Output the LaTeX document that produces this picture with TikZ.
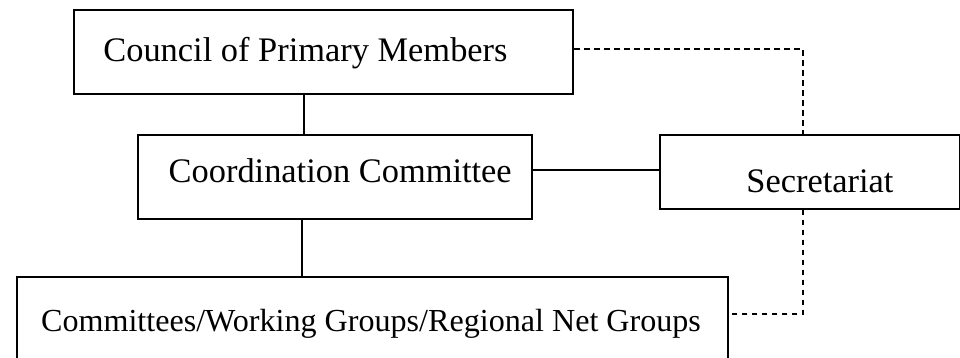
\documentclass[tikz,border=0pt]{standalone}
\usepackage{fontspec}
\setmainfont{Liberation Serif}
\begin{document}
\begin{tikzpicture}[x=0.5pt,y=-0.5pt,
  box/.style={draw=black, line width=1pt, rectangle, anchor=north west, inner sep=0pt, fill=white},
  lbl/.style={anchor=base west, inner sep=0pt, font=\fontsize{17.2}{20}\selectfont},
  conn/.style={draw=black, line width=1pt},
  dconn/.style={draw=black, line width=1pt, dash pattern=on 2.8pt off 2.2pt}]
\clip (0,0) rectangle (960,358);
\fill[white] (0,0) rectangle (960,358);
% boxes
\node[box, minimum width=249.65pt, minimum height=41.75pt] (council) at (72.7,9.5) {};
\node[box, minimum width=196.85pt, minimum height=42pt] (coord) at (137,134) {};
\node[box, minimum width=149.85pt, minimum height=36.85pt] (sec) at (659.3,134) {};
\node[box, minimum width=355.35pt, minimum height=55pt] (groups) at (16,275.7) {};
% labels
\node[lbl] (tcouncil) at (103,62) {Council of Primary Members};
\node[lbl] (tcoord) at (168.3,183) {Coordination Committee};
\node[lbl] (tsec) at (746,192) {Secretariat};
\node[lbl, font=\fontsize{16.05}{19}\selectfont] (tgroups) at (40.7,331) {Committees/Working Groups/Regional Net Groups};
% helper coordinates
\coordinate (xa) at (303.5,0);
\coordinate (xb) at (301.7,0);
\coordinate (ya) at (0,170);
\coordinate (xd) at (803,0);
\coordinate (yd1) at (0,49);
\coordinate (yd2) at (0,314);
% solid connectors
\draw[conn] (xa |- council.south) -- (xa |- coord.north);
\draw[conn] (xb |- coord.south) -- (xb |- groups.north);
\draw[conn] (coord.east |- ya) -- (sec.west |- ya);
% dashed connectors
\draw[dconn] (council.east |- yd1) -- (xd |- yd1) -- (xd |- sec.north);
\draw[dconn] (xd |- sec.south) -- (xd |- yd2) -- (groups.east |- yd2);
\end{tikzpicture}
\end{document}
